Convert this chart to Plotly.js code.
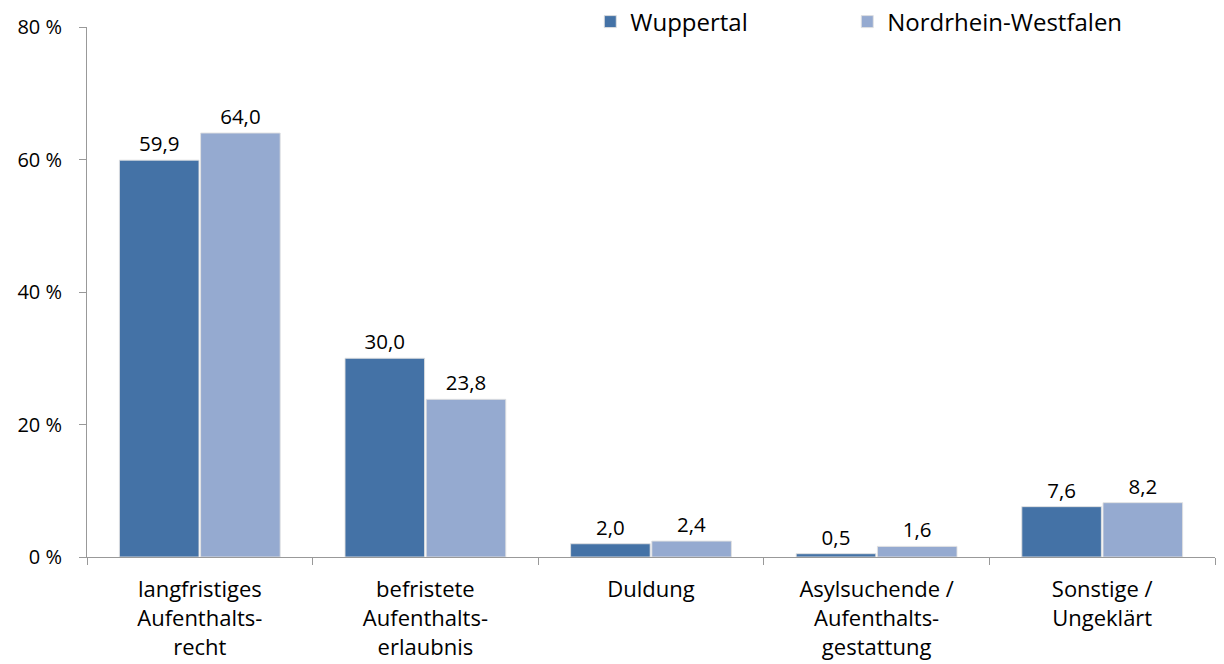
<!DOCTYPE html>
<html>
<head>
<meta charset="utf-8">
<script src="https://cdn.plot.ly/plotly-3.0.1.min.js"></script>
<style>html,body{margin:0;padding:0;background:#fff;}#chart{width:1224px;height:664px;}</style>
</head>
<body>
<div id="chart"></div>
<script>
const categories = [
  "langfristiges<br>Aufenthalts-<br>recht",
  "befristete<br>Aufenthalts-<br>erlaubnis",
  "Duldung",
  "Asylsuchende /<br>Aufenthalts-<br>gestattung",
  "Sonstige /<br>Ungeklärt"
];
const seriesNames = ["Wuppertal", "Nordrhein-Westfalen"];
const wuppertal = [59.9, 30.0, 2.0, 0.5, 7.6];
const nrw = [64.0, 23.8, 2.4, 1.6, 8.2];
const yTicks = [0, 20, 40, 60, 80];
const yTickText = ["0 %", "20 %", "40 %", "60 %", "80 %"];
const colors = ["#4472A6", "#95AAD0"];

const font = {family: "'Open Sans', Lato, sans-serif", color: "#000"};

function trace(name, values, color, legendId) {
  return {
    type: "bar",
    name: name,
    x: categories,
    y: values,
    legend: legendId,
    marker: {color: color, line: {color: "rgba(225,225,225,0.9)", width: 1}},
    texttemplate: "%{y:.1f}",
    textposition: "outside",
    cliponaxis: false,
    textfont: Object.assign({}, font, {size: 20.5}),
    hoverinfo: "skip"
  };
}

const data = [
  trace(seriesNames[0], wuppertal, colors[0], "legend"),
  trace(seriesNames[1], nrw, colors[1], "legend2")
];

function legendAt(px) {
  return {
    orientation: "h", xref: "container", x: px / 1224 - 0.03, xanchor: "left",
    yref: "container", y: 1 - 22 / 664, yanchor: "middle",
    font: Object.assign({}, font, {size: 24}),
    itemwidth: 30, bgcolor: "rgba(0,0,0,0)"
  };
}

const layout = {
  width: 1224, height: 664,
  margin: {l: 87, r: 9, t: 27, b: 107, autoexpand: false},
  paper_bgcolor: "#fff", plot_bgcolor: "#fff",
  separators: ",.",
  barmode: "group",
  bargap: 0.28,
  bargroupgap: 0.02,
  font: Object.assign({}, font, {size: 20}),
  showlegend: true,
  legend: legendAt(627),
  legend2: legendAt(884),
  xaxis: {
    type: "category",
    showline: true, linecolor: "#999", linewidth: 1,
    ticks: "outside", tickson: "boundaries", ticklen: 7, tickcolor: "#999",
    showgrid: false, zeroline: false,
    tickfont: Object.assign({}, font, {size: 22}),
    ticklabelstandoff: 13,
    fixedrange: true
  },
  yaxis: {
    range: [0, 80],
    tickvals: yTicks,
    ticktext: yTickText,
    showline: true, linecolor: "#999", linewidth: 1,
    ticks: "outside", ticklen: 7, tickcolor: "#999",
    showgrid: false, zeroline: false,
    tickfont: Object.assign({}, font, {size: 20}),
    ticklabelstandoff: 13,
    fixedrange: true
  }
};

Plotly.newPlot("chart", data, layout, {displayModeBar: false, staticPlot: true});
</script>
</body>
</html>
